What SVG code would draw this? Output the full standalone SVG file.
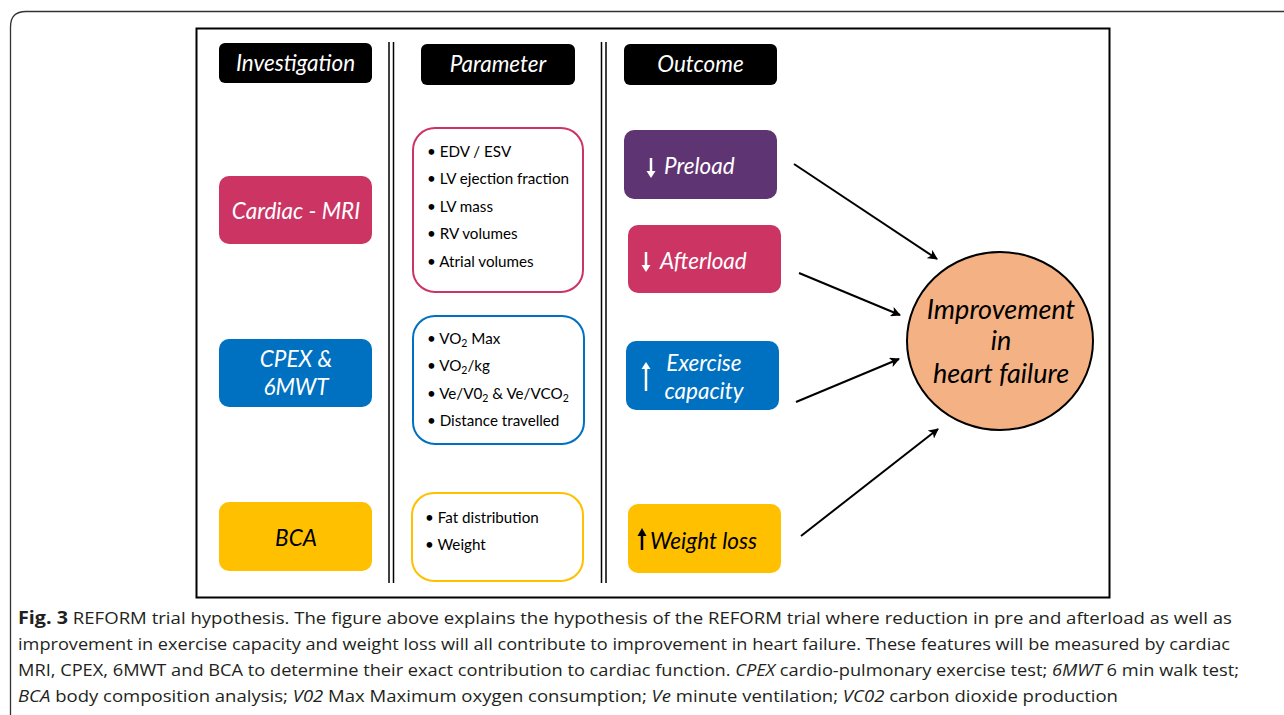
<svg xmlns="http://www.w3.org/2000/svg" width="1284" height="715" viewBox="0 0 1284 715">
<style>
.hd{fill:#000}
.ht{font-family:Lato,"Open Sans",sans-serif;font-style:italic;font-size:22.5px;fill:#fff;text-anchor:middle}
.bt{font-family:Lato,"Open Sans",sans-serif;font-style:italic;font-size:22.5px;fill:#fff;text-anchor:middle}
.li{font-family:Lato,"Open Sans",sans-serif;font-size:15.2px;fill:#000}
.pb{fill:#fff;stroke-width:2}
.sep{stroke:#000;stroke-width:1.5}
.conn{stroke:#000;stroke-width:2;fill:none;marker-end:url(#ah)}
.cap{font-family:"Open Sans","Liberation Sans",sans-serif;font-size:16.5px;fill:#231f20}
</style>
<defs>
<marker id="ah" viewBox="0 0 10 10" refX="9" refY="5" markerWidth="5" markerHeight="5" orient="auto" markerUnits="strokeWidth">
<path d="M0,0 L10,5 L0,10 L2.5,5 z" fill="#000"/>
</marker>
</defs>
<rect width="1284" height="715" fill="#fff"/>
<path d="M10.5 715 L10.5 27 Q10.5 11.5 26 11.5 L1284 11.5" fill="none" stroke="#333" stroke-width="1.3"/>
<rect x="196.5" y="28.5" width="913" height="569" fill="none" stroke="#000" stroke-width="2"/>
<g id="separators">
<line class="sep" x1="389" y1="42" x2="389" y2="583"/>
<line class="sep" x1="393.5" y1="42" x2="393.5" y2="583"/>
<line class="sep" x1="601.5" y1="42" x2="601.5" y2="583"/>
<line class="sep" x1="606" y1="42" x2="606" y2="583"/>
</g>
<g id="hdr-investigation"><rect class="hd" x="219" y="43" width="153" height="40" rx="6"/><text class="ht" x="295.5" y="71">Investigation</text></g>
<g id="hdr-parameter"><rect class="hd" x="421" y="44" width="154" height="41" rx="6"/><text class="ht" x="498" y="72">Parameter</text></g>
<g id="hdr-outcome"><rect class="hd" x="624" y="44" width="153" height="41" rx="6"/><text class="ht" x="700.5" y="72">Outcome</text></g>

<g id="inv-mri"><rect x="219" y="176" width="153" height="68" rx="10" fill="#cb3463"/><text class="bt" x="296" y="219">Cardiac - MRI</text></g>
<g id="inv-cpex"><rect x="219" y="339" width="153" height="68" rx="10" fill="#0070c0"/><text class="bt" x="296" y="367">CPEX &amp;</text><text class="bt" x="296" y="395">6MWT</text></g>
<g id="inv-bca"><rect x="219" y="502" width="153" height="69" rx="10" fill="#ffc000"/><text class="bt" x="296" y="546" style="fill:#000">BCA</text></g>

<g id="par-mri"><rect class="pb" x="413" y="128" width="170" height="164" rx="22" stroke="#cc3366"/>
<g class="li">
<text x="427" y="157">• EDV / ESV</text>
<text x="427" y="184">• LV ejection fraction</text>
<text x="427" y="212">• LV mass</text>
<text x="427" y="239">• RV volumes</text>
<text x="427" y="267">• Atrial volumes</text>
</g></g>
<g id="par-cpex"><rect class="pb" x="413" y="316" width="171" height="128" rx="22" stroke="#0070c0"/>
<g class="li">
<text x="427" y="344">• VO<tspan font-size="10.5" dy="3">2</tspan><tspan dy="-3"> Max</tspan></text>
<text x="427" y="371">• VO<tspan font-size="10.5" dy="3">2</tspan><tspan dy="-3">/kg</tspan></text>
<text x="427" y="399">• Ve/V0<tspan font-size="10.5" dy="3">2</tspan><tspan dy="-3"> &amp; Ve/VCO</tspan><tspan font-size="10.5" dy="3">2</tspan></text>
<text x="427" y="426">• Distance travelled</text>
</g></g>
<g id="par-bca"><rect class="pb" x="412" y="493" width="171" height="88" rx="22" stroke="#ffc000"/>
<g class="li">
<text x="425" y="523">• Fat distribution</text>
<text x="425" y="550">• Weight</text>
</g></g>

<g id="out-preload"><rect x="624" y="130" width="153" height="69" rx="10" fill="#5f3473"/>
<path d="M651 158 V174" stroke="#fff" stroke-width="2.5"/><path d="M646.5 171 L651 178 L655.5 171 z" fill="#fff"/>
<text class="bt" x="664" y="174" style="text-anchor:start">Preload</text></g>
<g id="out-afterload"><rect x="628" y="225" width="153" height="68" rx="10" fill="#cb3463"/>
<path d="M646 252 V268" stroke="#fff" stroke-width="2.5"/><path d="M641.5 265 L646 272 L650.5 265 z" fill="#fff"/>
<text class="bt" x="660" y="269" style="text-anchor:start">Afterload</text></g>
<g id="out-exercise"><rect x="626" y="341" width="153" height="69" rx="10" fill="#0070c0"/>
<path d="M646 366 V391" stroke="#fff" stroke-width="2.5"/><path d="M641.5 369 L646 362 L650.5 369 z" fill="#fff"/>
<text class="bt" x="704" y="371">Exercise</text><text class="bt" x="704" y="399">capacity</text></g>
<g id="out-weight"><rect x="628" y="504" width="153" height="69" rx="10" fill="#ffc000"/>
<path d="M642 533 V550" stroke="#000" stroke-width="2.5"/><path d="M637.5 536 L642 528 L646.5 536 z" fill="#000"/>
<text class="bt" x="650" y="549" style="text-anchor:start;fill:#000">Weight loss</text></g>

<g id="improvement"><ellipse cx="1000" cy="341" rx="93" ry="89" fill="#f4b183" stroke="#000" stroke-width="2"/>
<text class="bt" x="1001" y="319" style="fill:#000;font-size:27px">Improvement</text>
<text class="bt" x="1001" y="350" style="fill:#000;font-size:27px">in</text>
<text class="bt" x="1001" y="383" style="fill:#000;font-size:27px">heart failure</text></g>

<g id="connectors">
<line class="conn" x1="794" y1="164" x2="937" y2="259"/>
<line class="conn" x1="799" y1="273" x2="900" y2="315"/>
<line class="conn" x1="796" y1="402" x2="899" y2="359"/>
<line class="conn" x1="801" y1="536" x2="938" y2="429"/>
</g>

<g id="caption" class="cap">
<text x="18" y="624" textLength="1214" lengthAdjust="spacingAndGlyphs"><tspan font-weight="bold" font-size="17.5">Fig. 3</tspan>  REFORM trial hypothesis. The figure above explains the hypothesis of the REFORM trial where reduction in pre and afterload as well as</text>
<text x="18" y="650" textLength="1212" lengthAdjust="spacingAndGlyphs">improvement in exercise capacity and weight loss will all contribute to improvement in heart failure. These features will be measured by cardiac</text>
<text x="18" y="676" textLength="1221" lengthAdjust="spacingAndGlyphs">MRI, CPEX, 6MWT and BCA to determine their exact contribution to cardiac function. <tspan font-style="italic">CPEX</tspan> cardio-pulmonary exercise test; <tspan font-style="italic">6MWT</tspan> 6 min walk test;</text>
<text x="18" y="702" textLength="1100" lengthAdjust="spacingAndGlyphs"><tspan font-style="italic">BCA</tspan> body composition analysis; <tspan font-style="italic">V02</tspan> Max Maximum oxygen consumption; <tspan font-style="italic">Ve</tspan> minute ventilation; <tspan font-style="italic">VC02</tspan> carbon dioxide production</text>
</g>
</svg>
